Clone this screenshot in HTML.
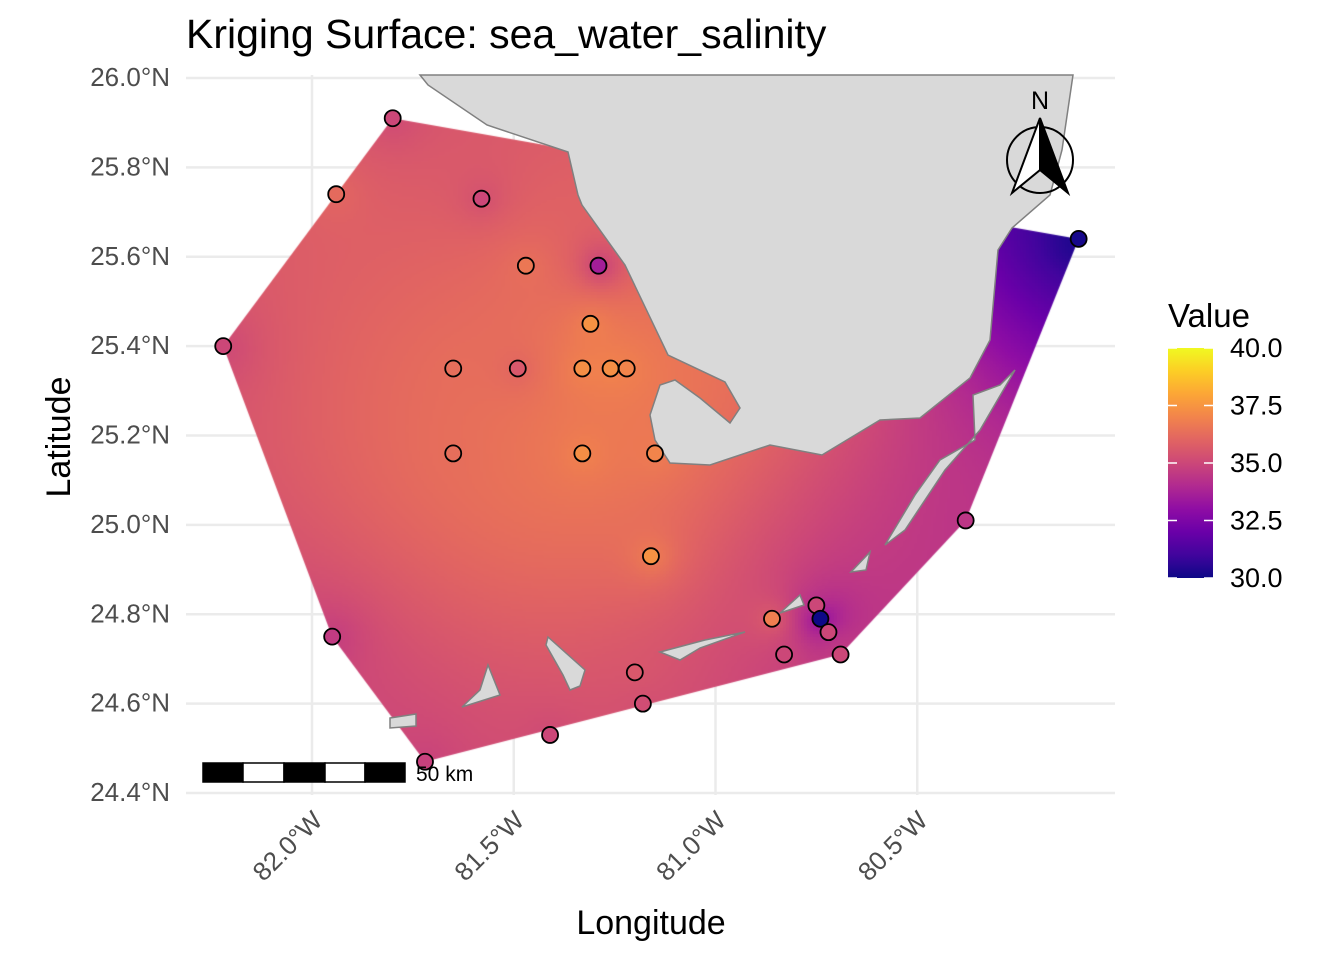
<!DOCTYPE html>
<html><head><meta charset="utf-8">
<style>
html,body{margin:0;padding:0;background:#fff;}
#wrap{position:relative;width:1344px;height:960px;font-family:"Liberation Sans",sans-serif;}
canvas,svg{position:absolute;left:0;top:0;}
</style></head>
<body>
<div id="wrap">
<svg id="gsvg" width="1344" height="960" xmlns="http://www.w3.org/2000/svg"></svg>
<canvas id="surf" width="1344" height="960"></canvas>
<svg id="svg" width="1344" height="960" xmlns="http://www.w3.org/2000/svg"></svg>
</div>
<script>
// ---- data ----
const lons = [-81.80,-81.94,-81.58,-81.47,-81.29,-81.31,-82.22,-81.65,-81.49,-81.33,-81.26,-81.22,-81.65,-81.33,-81.15,-81.16,-80.38,-80.10,-81.95,-80.86,-80.75,-80.74,-80.72,-80.83,-80.69,-81.20,-81.18,-81.41,-81.72];
const lats = [25.91,25.74,25.73,25.58,25.58,25.45,25.40,25.35,25.35,25.35,25.35,25.35,25.16,25.16,25.16,24.93,25.01,25.64,24.75,24.79,24.82,24.79,24.76,24.71,24.71,24.67,24.60,24.53,24.47];
const vals = [35.0,36.2,35.0,36.6,33.6,37.4,35.0,36.3,35.6,37.3,37.3,37.0,36.3,37.3,37.0,37.4,34.4,30.2,34.6,36.8,35.0,29.6,35.0,35.0,35.0,35.6,35.2,35.0,34.8];
const latTicks = [26.0,25.8,25.6,25.4,25.2,25.0,24.8,24.6,24.4];
const latLabels = ["26.0°N","25.8°N","25.6°N","25.4°N","25.2°N","25.0°N","24.8°N","24.6°N","24.4°N"];
const lonTicks = [-82.0,-81.5,-81.0,-80.5];
const lonLabels = ["82.0°W","81.5°W","81.0°W","80.5°W"];
const legendTicks = [40.0,37.5,35.0,32.5,30.0];

const X = lon => 312 + (lon + 82) * 403.5;
const Y = lat => 78 + (26 - lat) * 446.9;
const vmin = 30, vmax = 40;
const plasma = ["#0d0887","#41049d","#6a00a8","#8f0da4","#b12a90","#cc4778","#e16462","#f2844b","#fca636","#fcce25","#f0f921"];
function hex(h){return [parseInt(h.slice(1,3),16),parseInt(h.slice(3,5),16),parseInt(h.slice(5,7),16)];}
const pal = plasma.map(hex);
function col(v){let t=Math.max(0,Math.min(1,(v-vmin)/(vmax-vmin)))*10;let i=Math.min(9,Math.floor(t));let f=t-i;const a=pal[i],b=pal[i+1];return [0,1,2].map(k=>Math.round(a[k]+(b[k]-a[k])*f));}
function rgb(c){return `rgb(${c[0]},${c[1]},${c[2]})`;}

// ---- surface ----
const hullIdx = [6,0,17,16,24,28,18];
const cv = document.getElementById('surf'); const ctx = cv.getContext('2d');
ctx.save(); ctx.beginPath();
hullIdx.forEach((i,k)=>{const x=X(lons[i]),y=Y(lats[i]); k?ctx.lineTo(x,y):ctx.moveTo(x,y);});
ctx.closePath(); ctx.clip();
const px = lons.map(X), py = lats.map(Y);
const step = 3, sig2 = 2*130*130;
for(let y=100;y<780;y+=step){for(let x=210;x<1090;x+=step){
  let sw=0,sv=0;
  for(let i=0;i<vals.length;i++){const dx=x-px[i],dy=y-py[i];const d2=dx*dx+dy*dy;const w=Math.exp(-d2/sig2)+2500/(d2+250)+1e-9;sw+=w;sv+=w*vals[i];}
  ctx.fillStyle=rgb(col(sv/sw)); ctx.fillRect(x,y,step,step);
}}
ctx.restore();

// ---- svg ----
const svg = document.getElementById('svg'); const gsvg = document.getElementById('gsvg'); const NS="http://www.w3.org/2000/svg";
function el(tag,attrs,parent){const e=document.createElementNS(NS,tag);for(const k in attrs)e.setAttribute(k,attrs[k]);(parent||svg).appendChild(e);return e;}
latTicks.forEach(t=>{const l=el('line',{x1:186,x2:1115,y1:Y(t),y2:Y(t),stroke:'#ebebeb','stroke-width':2.5},gsvg);
  });
lonTicks.forEach(t=>{const l=el('line',{x1:X(t),x2:X(t),y1:75,y2:795,stroke:'#ebebeb','stroke-width':2.5},gsvg);
  });

// land
const landPolys = [
 "420,75 428,85 487,125 568,152 578,195 582,205 625,265 668,355 725,382 740,408 730,423 700,398 675,380 660,385 650,415 655,440 670,463 710,465 770,445 822,455 880,420 920,418 970,378 990,340 998,250 1012,228 1050,195 1062,150 1073,75",
 "1015,370 1000,385 973,395 975,440 940,460 915,495 885,545 905,530 945,470 980,430",
 "870,552 866,570 851,572",
 "800,595 804,605 780,613",
 "660,652 705,640 745,632 700,648 680,660",
 "548,637 585,670 580,686 570,690 563,675 546,645",
 "488,665 500,695 462,707 480,690",
 "390,718 416,714 416,726 390,728"];
const landG = el('g',{});
 
landPolys.forEach(p=>el('polygon',{points:p,fill:'#d9d9d9',stroke:'#808080','stroke-width':1.5},landG));

// points
const ptsG = el('g',{});
 
vals.forEach((v,i)=>{const c=el('circle',{cx:X(lons[i]),cy:Y(lats[i]),r:8,fill:rgb(col(v)),stroke:'#000','stroke-width':1.8},ptsG);
  });

// axes labels
latTicks.forEach((t,i)=>{const tx=el('text',{x:170,y:Y(t)+8,'text-anchor':'end','font-size':26,fill:'#4d4d4d'});tx.textContent=latLabels[i];
  });
lonTicks.forEach((t,i)=>{const x=X(t);const tx=el('text',{x:x+12,y:822,'text-anchor':'end','font-size':26,fill:'#4d4d4d',transform:`rotate(-45 ${x+12} 822)`});tx.textContent=lonLabels[i];
  });
let t;
t=el('text',{x:186,y:48,'font-size':41,fill:'#000'});t.textContent='Kriging Surface: sea_water_salinity';
 
t=el('text',{x:651,y:934,'text-anchor':'middle','font-size':34,fill:'#000'});t.textContent='Longitude';
 
t=el('text',{x:70,y:437,'text-anchor':'middle','font-size':34,fill:'#000',transform:'rotate(-90 70 437)'});t.textContent='Latitude';
 

// scale bar
const sb = el('g',{});
 
[[203,243,'#000'],[243,284,'#fff'],[284,325,'#000'],[325,365,'#fff'],[365,405,'#000']].forEach(s=>el('rect',{x:s[0],y:763,width:s[1]-s[0],height:19,fill:s[2],stroke:'#000','stroke-width':1.5},sb));
t=el('text',{x:416,y:781,'font-size':21,fill:'#000'},sb);t.textContent='50 km';

// compass
const cp = el('g',{});
 
el('circle',{cx:1040,cy:160,r:33,fill:'none',stroke:'#000','stroke-width':2},cp);
el('polygon',{points:'1040,118 1040,170 1012,193',fill:'#fff',stroke:'#000','stroke-width':2},cp);
el('polygon',{points:'1040,118 1040,170 1068,193',fill:'#000',stroke:'#000','stroke-width':2},cp);
t=el('text',{x:1040,y:109,'text-anchor':'middle','font-size':25,fill:'#000'},cp);t.textContent='N';

// legend
const lg = el('g',{});
 
t=el('text',{x:1168,y:327,'font-size':33,fill:'#000'},lg);t.textContent='Value';
const defs=el('defs',{});const gr=el('linearGradient',{id:'lgd',x1:0,y1:1,x2:0,y2:0},defs);
plasma.forEach((c,i)=>el('stop',{offset:i/10,'stop-color':c},gr));
el('rect',{x:1168,y:348,width:45,height:230,fill:'url(#lgd)'},lg);
const LY = v => 578 - (v-vmin)/(vmax-vmin)*230;
legendTicks.forEach(v=>{el('line',{x1:1168,x2:1177,y1:LY(v),y2:LY(v),stroke:'#fff','stroke-width':1.5},lg);
 el('line',{x1:1204,x2:1213,y1:LY(v),y2:LY(v),stroke:'#fff','stroke-width':1.5},lg);
 const tx=el('text',{x:1230,y:LY(v)+9,'font-size':27,fill:'#000'},lg);tx.textContent=v.toFixed(1);
  });
</script>
</body></html>
